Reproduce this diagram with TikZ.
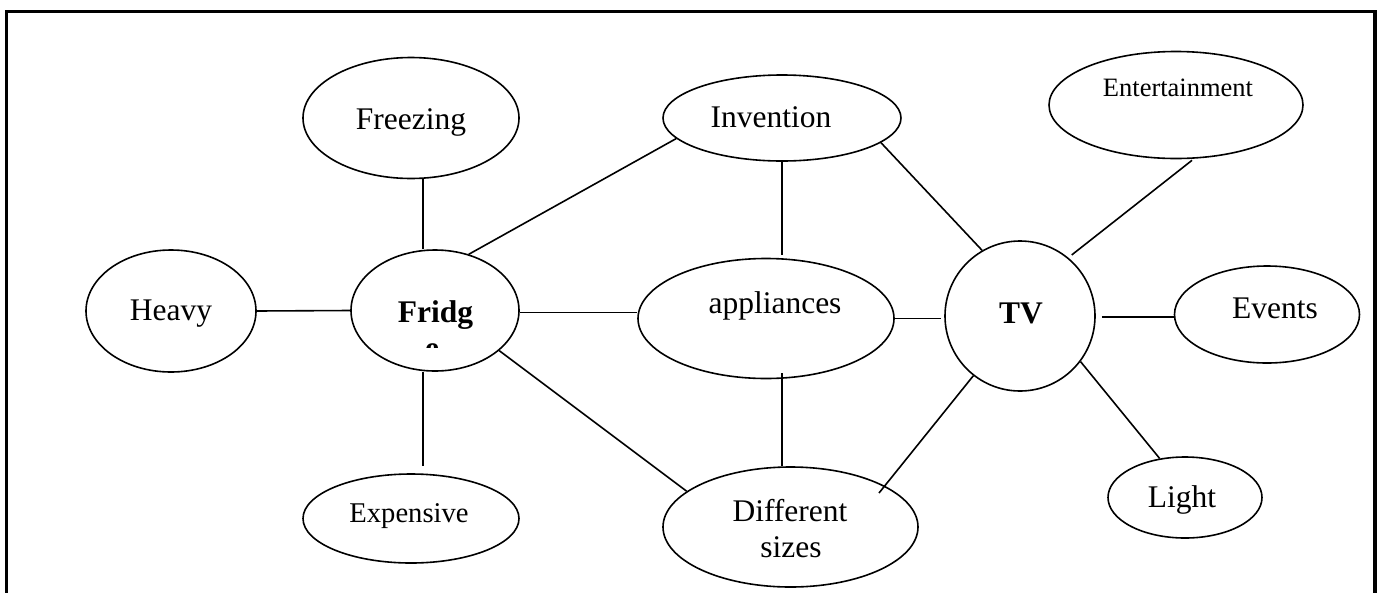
\documentclass[tikz,border=0pt]{standalone}
\usepackage{fontspec}
\setmainfont{Liberation Serif}
\usetikzlibrary{shapes.geometric,calc}
\begin{document}
\begin{tikzpicture}[x=1pt,y=-1pt,
  bubble/.style={draw,ellipse,line width=1.6pt,inner sep=0pt},
  disc/.style={draw,circle,line width=1.6pt,inner sep=0pt},
  word/.style={inner sep=0pt,anchor=base,font=\fontsize{31.5}{36}\selectfont},
  small/.style={font=\fontsize{26.5}{32}\selectfont},
  mid/.style={font=\fontsize{28.6}{34}\selectfont},
  strong/.style={font=\fontsize{31.5}{36}\selectfont\bfseries},
  link/.style={line width=1.6pt}]
\useasboundingbox (0,0) rectangle (1384,592);
% outer frame (runs past the lower edge of the page)
\draw[line width=3.2pt] (6.5,11.5) rectangle (1375,640);

% shapes
\node[bubble,minimum width=216pt,minimum height=121pt] (freezing) at (411,118) {};
\node[bubble,minimum width=238pt,minimum height=86pt] (invention) at (782,118) {};
\node[bubble,minimum width=254pt,minimum height=107pt] (entertainment) at (1176,105) {};
\node[bubble,minimum width=170pt,minimum height=122pt] (heavy) at (171,311) {};
\node[bubble,minimum width=168pt,minimum height=121pt] (fridge) at (435,310.5) {};
\node[bubble,minimum width=256pt,minimum height=120pt] (app) at (766,318.5) {};
\node[disc,minimum size=150pt] (tv) at (1020,316) {};
\node[bubble,minimum width=185pt,minimum height=97pt] (events) at (1267,314.5) {};
\node[bubble,minimum width=216pt,minimum height=89pt] (expensive) at (411,518.5) {};
\node[bubble,minimum width=255pt,minimum height=120pt] (different) at (790.5,527) {};
\node[bubble,minimum width=154pt,minimum height=81pt] (light) at (1185,497.5) {};

% labels
\node[word] (freezing-t) at (411,129) {Freezing};
\node[word] (invention-t) at (771,127) {Invention};
\node[word,small] (entertainment-t) at (1178,96) {Entertainment};
\node[word] (heavy-t) at (171,320) {Heavy};
\node[word,strong] (fridge-t) at (435.5,322) {Fridg};
\begin{scope}
  \clip (400,330) rectangle (470,347.5);
  \node[word,strong] (fridge-e) at (432,358) {e};
\end{scope}
\node[word] (app-t) at (775,313) {appliances};
\node[word,strong] (tv-t) at (1021,323) {TV};
\node[word] (events-t) at (1275,318) {Events};
\node[word,mid] (expensive-t) at (409,522) {Expensive};
\node[word] (different-t) at (790,521) {Different};
\node[word] (sizes-t) at (791,557) {sizes};
\node[word] (light-t) at (1182,507) {Light};

% connectors
\draw[link] (heavy.east) -- (fridge.west);
\draw[link] ([xshift=12pt]freezing.south) -- ([xshift=-12pt]fridge.north);
\draw[link] ([xshift=-12pt]fridge.south) -- ([xshift=12pt,yshift=7pt]expensive.north);
\draw[link] (fridge.59) -- (invention.191);
\draw[link] ([yshift=-2pt]fridge.east) -- ([yshift=6pt]app.west);
\draw[link] (fridge.-32.5) -- (different.161);
\draw[link] (invention.south) -- ($(invention.south |- app.north)+(0,-3)$);
\draw[link] ($(invention.south |- app.south)+(0,-6)$) -- (invention.south |- different.north);
\draw[link] (invention.-14) -- (tv.120);
\draw[link] (app.east) -- ($(app.east -| tv.west)+(-3,0)$);
\draw[link] ($(different.center)+(88.5,-34)$) -- (tv.232);
\draw[link] ($(tv.50)+(3,-3)$) -- ($(entertainment.south)+(16,1)$);
\draw[link] ($(tv.east)+(6,1)$) -- ($(tv.east -| events.west)+(0,1)$);
\draw[link] (tv.-37) -- (light.123);
\end{tikzpicture}
\end{document}
